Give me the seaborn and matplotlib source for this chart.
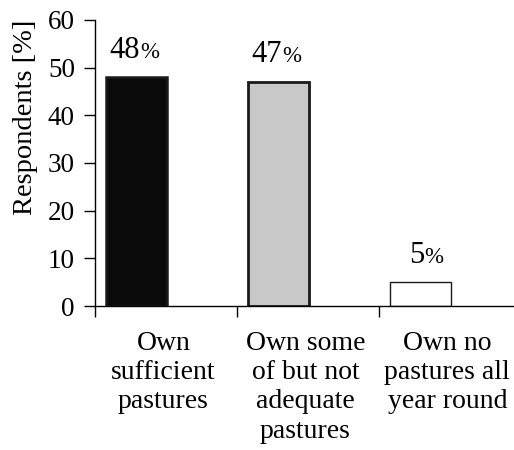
import seaborn as sns
import matplotlib.pyplot as plt

# data
categories = ['Own\nsufficient\npastures',
              'Own some\nof but not\nadequate\npastures',
              'Own no\npastures all\nyear round']
values = [48, 47, 5]
bar_colors = ['#0a0a0a', '#c8c8c8', '#ffffff']
y_ticks = [0, 10, 20, 30, 40, 50, 60]

sns.set_theme(style='white')
plt.rcParams['font.family'] = ['Liberation Serif', 'DejaVu Serif']
plt.rcParams.update({'text.color': 'black', 'axes.labelcolor': 'black',
                     'xtick.color': 'black', 'ytick.color': 'black'})

fig = plt.figure(figsize=(5.14, 4.5), dpi=100)
ax = fig.add_axes([0.185, 0.32, 0.815, 0.6356])

sns.barplot(x=categories, y=values, hue=categories, palette=bar_colors,
            legend=False, width=0.43, ax=ax, saturation=1)

# edges like the original
for patch, lw in zip(ax.patches, [1.8, 2.0, 1.0]):
    patch.set_edgecolor('#1a1a1a')
    patch.set_linewidth(lw)

# value labels, with a smaller percent sign
for i, v in enumerate(values):
    ax.text(i + 0.025, v + 4.1, str(v), ha='right', va='baseline', fontsize=22, color='black')
    ax.text(i + 0.025, v + 4.1, '%', ha='left', va='baseline', fontsize=16.5, color='black')

ax.set_ylim(0, 60)
ax.set_yticks(y_ticks)
ax.set_xlim(-0.292, 2.66)

# category labels centred in each slot, ticks at slot boundaries
ax.set_xticks([i + 0.19 for i in range(len(categories))])
ax.set_xticklabels(categories, fontsize=20, linespacing=1.22)
ax.set_xticks([-0.292 + k for k in range(0, 3)], minor=True)
ax.tick_params(axis='x', which='major', length=0, pad=18)
ax.tick_params(axis='x', which='minor', bottom=True, length=8, width=1, direction='out', color='black')
ax.tick_params(axis='y', left=True, length=8, width=1, direction='out', labelsize=19.5,
               pad=6.5, color='black')

ax.set_ylabel('Respondents [%]', fontsize=20.5)
ax.yaxis.set_label_coords(-0.136, 0.661)
sns.despine(ax=ax, top=True, right=True)
for s in ['left', 'bottom']:
    ax.spines[s].set_color('black')
    ax.spines[s].set_linewidth(1)

fig.savefig('out.png', dpi=100)
